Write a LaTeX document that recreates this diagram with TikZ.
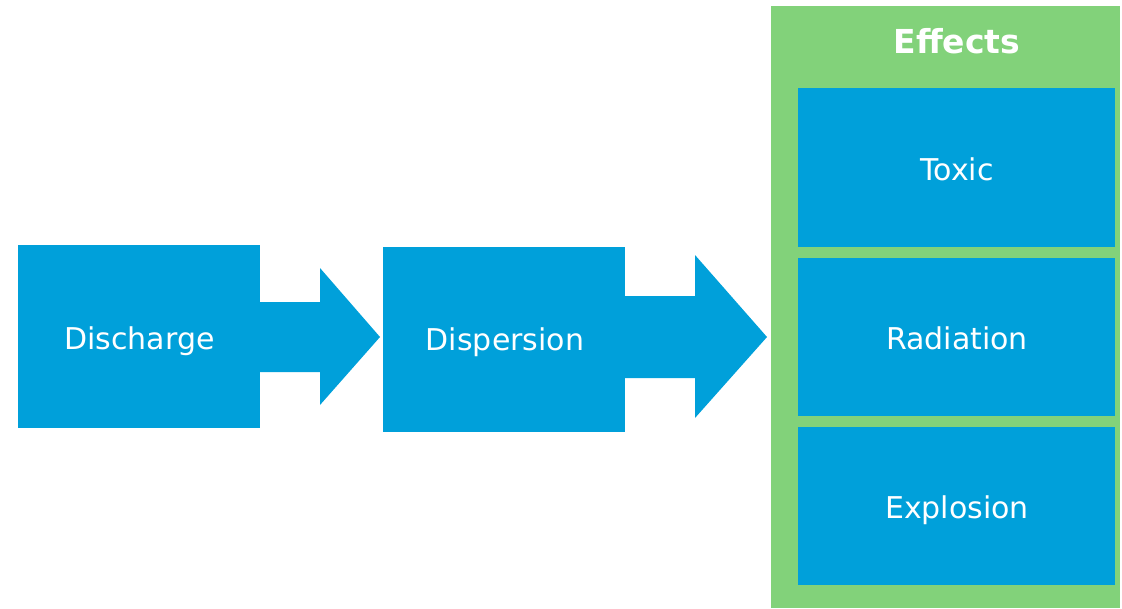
\documentclass[tikz,border=0pt]{standalone}
\usepackage{fontspec}
\setmainfont{DejaVu Sans}
\definecolor{boxblue}{RGB}{0,160,218}
\definecolor{effgreen}{RGB}{130,210,122}
\begin{document}
\begin{tikzpicture}[x=1pt,y=-1pt,
  bluebox/.style={fill=boxblue,draw=none,inner sep=0pt},
  boxtext/.style={text=white,inner sep=0pt,anchor=base,font=\fontsize{30}{34}\selectfont},
  blockarrow/.style={fill=boxblue,draw=none}]
\useasboundingbox (0,0) rectangle (1122,608);
% green container
\node[fill=effgreen,draw=none,minimum width=349pt,minimum height=602pt,inner sep=0pt,anchor=north west] (eff) at (771,6) {};
\node[text=white,inner sep=0pt,anchor=base,font=\bfseries\fontsize{33}{36}\selectfont] (efft) at (957,53) {Effects};
% effect boxes
\node[bluebox,minimum width=317pt,minimum height=159pt] (toxic) at (956.5,167.5) {};
\node[boxtext] (toxict) at (957,180) {Toxic};
\node[bluebox,minimum width=317pt,minimum height=158pt] (rad) at (956.5,337) {};
\node[boxtext] (radt) at (957,349.5) {Radiation};
\node[bluebox,minimum width=317pt,minimum height=158pt] (expl) at (956.5,506) {};
\node[boxtext] (explt) at (957,518) {Explosion};
% process boxes
\node[bluebox,minimum width=242pt,minimum height=183pt] (dis) at (139,336.5) {};
\node[boxtext] (dist) at (139.5,349) {Discharge};
\node[bluebox,minimum width=242pt,minimum height=185pt] (disp) at (504,339.5) {};
\node[boxtext] (dispt) at (505,350.5) {Dispersion};
% block arrows
\fill[blockarrow] (dis.east |- 0,302) -- (320,302) -- (320,268) -- (380,337) -- (320,405) -- (320,372) -- (dis.east |- 0,372) -- cycle;
\fill[blockarrow] (disp.east |- 0,296) -- (695,296) -- (695,255) -- (767,337) -- (695,418) -- (695,378) -- (disp.east |- 0,378) -- cycle;
\end{tikzpicture}
\end{document}
